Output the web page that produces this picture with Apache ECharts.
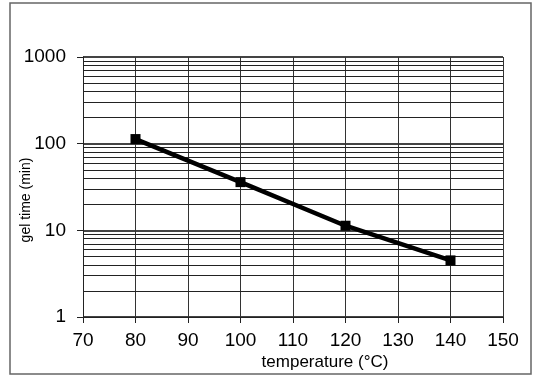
<!DOCTYPE html>
<html>
<head>
<meta charset="utf-8">
<script src="https://cdn.jsdelivr.net/npm/echarts@6/dist/echarts.min.js"></script>
<style>html,body{margin:0;padding:0;background:#fff}#c{width:542px;height:378px}</style>
</head>
<body>
<div id="c"></div>
<script>
var temperature = [80, 100, 120, 140];
var gelTime = [113, 36, 11.3, 4.5];
var yMinorGrid = [2,3,4,5,6,7,8,9,20,30,40,50,60,70,80,90,200,300,400,500,600,700,800,900];
var xName = 'temperature (°C)';
var yName = 'gel time (min)';

var font = 'Liberation Sans, Arial, sans-serif';
var chart = echarts.init(document.getElementById('c'));
chart.setOption({
  animation: false,
  backgroundColor: '#fff',
  graphic: [{
    type: 'rect', shape: {x: 10, y: 3, width: 521, height: 371},
    style: {fill: 'none', stroke: '#666', lineWidth: 1.5}, silent: true
  }],
  grid: {left: 83, right: 39, top: 57, bottom: 61, containLabel: false, outerBoundsMode: 'none'},
  xAxis: {
    type: 'value', min: 70, max: 150, interval: 10,
    name: xName, nameLocation: 'middle', nameGap: 37, nameMoveOverlap: false,
    nameTextStyle: {fontFamily: font, fontSize: 17, color: '#000', padding: [0, 0, 0, 64]},
    axisLine: {lineStyle: {color: '#222', width: 1}},
    axisTick: {show: true, length: 6, lineStyle: {color: '#222'}},
    axisLabel: {fontFamily: font, fontSize: 19, color: '#000', margin: 14},
    splitLine: {show: true, lineStyle: {color: '#333', width: 1}}
  },
  yAxis: {
    type: 'log', logBase: 10, min: 1, max: 1000,
    name: yName, nameLocation: 'middle', nameGap: 50, nameMoveOverlap: false,
    nameTextStyle: {fontFamily: font, fontSize: 14, color: '#000', padding: [0, 26, 0, 0]},
    axisLine: {show: true, lineStyle: {color: '#222', width: 1}},
    axisTick: {show: true, length: 6, lineStyle: {color: '#222'}},
    axisLabel: {fontFamily: font, fontSize: 19, color: '#000', margin: 17,
      formatter: function (v) { return String(v); }},
    splitLine: {show: true, lineStyle: {color: '#444', width: 2}}
  },
  series: [{
    type: 'line', data: [], silent: true,
    markLine: {
      silent: true, symbol: ['none', 'none'], label: {show: false},
      lineStyle: {color: '#222', type: 'solid', width: 1},
      data: yMinorGrid.map(function (v) { return {yAxis: v}; })
    }
  }, {
    type: 'line',
    data: temperature.map(function (t, i) { return [t, gelTime[i]]; }),
    symbol: 'rect', symbolSize: 10,
    itemStyle: {color: '#000'},
    lineStyle: {color: '#000', width: 4.5},
    z: 5
  }]
});
</script>
</body>
</html>
